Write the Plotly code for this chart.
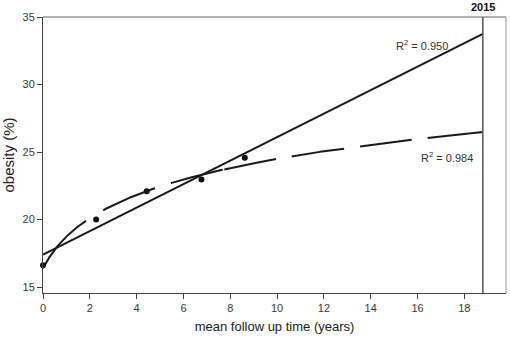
import numpy as np
import plotly.graph_objects as go

# data points
follow_up_years = [0.0, 2.27, 4.43, 6.77, 8.62]
obesity_pct = [16.62, 20.0, 22.1, 22.97, 24.57]
r2_linear = "0.950"
r2_log = "0.984"
year_marker_x = 18.79
year_marker_label = "2015"

# style: x-positions where the dashed log-fit curve has its gaps
dash_gaps_x = [(1.83, 2.57), (4.78, 5.46), (7.67, 7.74), (9.95, 10.62),
               (12.86, 13.54), (15.75, 16.43)]

X_RANGE = [0, 19.78]
Y_RANGE = [14.56, 35]
W, H = 510, 340
ML, MR, MT, MB = 43, 4, 17, 47

x = np.array(follow_up_years)
y = np.array(obesity_pct)

# linear fit
b1, a1 = np.polyfit(x, y, 1)
# logarithmic fit y = a + b ln(x+1)
b2, a2 = np.polyfit(np.log(x + 1), y, 1)

xx = np.linspace(0, year_marker_x, 2000)
y_lin = a1 + b1 * xx
y_log = a2 + b2 * np.log(xx + 1)

# build dash pattern (in px along the path) from gap positions
pw, ph = W - ML - MR, H - MT - MB
px = (xx - X_RANGE[0]) / (X_RANGE[1] - X_RANGE[0]) * pw
py = (y_log - Y_RANGE[0]) / (Y_RANGE[1] - Y_RANGE[0]) * ph
seg = np.hypot(np.diff(px), np.diff(py))
cum = np.concatenate([[0], np.cumsum(seg)])
def arc(xv):
    return float(np.interp(xv, xx, cum))
parts = []
prev = 0.0
for g0, g1 in dash_gaps_x:
    parts.append(arc(g0) - prev)
    parts.append(arc(g1) - arc(g0))
    prev = arc(g1)
parts.append(cum[-1] - prev + 5)
parts.append(1000)
dash = ",".join(f"{p:.1f}px" for p in parts)

fig = go.Figure()
fig.add_trace(go.Scatter(x=xx, y=y_lin, mode="lines",
                         line=dict(color="#1a1a1a", width=2), hoverinfo="skip"))
fig.add_trace(go.Scatter(x=xx, y=y_log, mode="lines",
                         line=dict(color="#1a1a1a", width=2, dash=dash),
                         hoverinfo="skip"))
fig.add_trace(go.Scatter(x=x, y=y, mode="markers",
                         marker=dict(color="#111111", size=6), cliponaxis=False))

font = "Liberation Sans, Arial, sans-serif"
fig.update_layout(
    width=W, height=H,
    margin=dict(l=ML, r=MR, t=MT, b=MB),
    paper_bgcolor="white", plot_bgcolor="white",
    showlegend=False,
    font=dict(family=font, size=11, color="#333333"),
    xaxis=dict(range=X_RANGE, tickvals=list(range(0, 20, 2)),
               showgrid=False, zeroline=False, showline=True, linecolor="#444444",
               linewidth=1, ticks="outside", ticklen=5, tickcolor="#444444",
               tickfont=dict(size=11, color="#3a3a3a"),
               title=dict(text="mean follow up time (years)", font=dict(size=13, color="#222222"),
                          standoff=8)),
    yaxis=dict(range=Y_RANGE, tickvals=[15, 20, 25, 30, 35],
               showgrid=False, zeroline=False, showline=True, linecolor="#444444",
               linewidth=1, ticks="outside", ticklen=5, tickcolor="#444444",
               tickfont=dict(size=11, color="#3a3a3a"),
               title=dict(text="obesity (%)", font=dict(size=15, color="#222222"),
                          standoff=4)),
    shapes=[
        dict(type="line", xref="paper", yref="paper", x0=0, x1=1, y0=1, y1=1,
             line=dict(color="#999999", width=1.5)),
        dict(type="line", xref="paper", yref="paper", x0=1, x1=1, y0=0, y1=1,
             line=dict(color="#999999", width=1)),
        dict(type="line", xref="x", yref="paper", x0=year_marker_x, x1=year_marker_x, y0=0, y1=1,
             line=dict(color="#555555", width=1.5)),
    ],
    annotations=[
        dict(x=year_marker_x, y=1, xref="x", yref="paper", yanchor="bottom", yshift=2,
             text="<b>" + year_marker_label + "</b>", showarrow=False,
             font=dict(size=11, color="#111111")),
        dict(x=16.19, y=32.9, xref="x", yref="y", text="R<sup>2</sup> = " + r2_linear,
             showarrow=False, font=dict(size=11, color="#333333")),
        dict(x=17.26, y=24.6, xref="x", yref="y", text="R<sup>2</sup> = " + r2_log,
             showarrow=False, font=dict(size=11, color="#333333")),
    ],
)

fig.write_html("out.html")
